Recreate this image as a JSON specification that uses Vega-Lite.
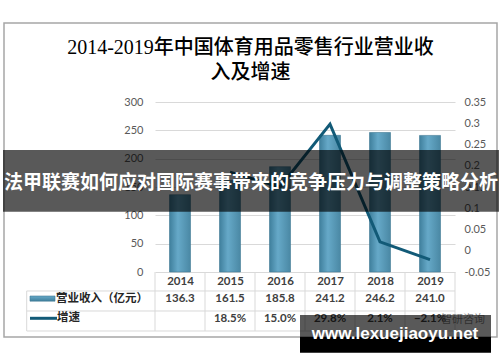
{
  "$schema": "https://vega.github.io/schema/vega-lite/v6.json",
  "width": 300,
  "height": 170,
  "padding": {"left": 3, "top": 22, "right": 1, "bottom": 9},
  "background": "white",
  "config": {"view": {"stroke": null}},
  "data": {
    "values": [
      {"year": 2014, "revenue": 136.3, "growth": null},
      {"year": 2015, "revenue": 161.5, "growth": 0.185},
      {"year": 2016, "revenue": 185.8, "growth": 0.15},
      {"year": 2017, "revenue": 241.2, "growth": 0.298},
      {"year": 2018, "revenue": 246.2, "growth": 0.021},
      {"year": 2019, "revenue": 241.0, "growth": -0.021}
    ]
  },
  "layer": [
    {
      "mark": {"type": "bar", "orient": "vertical", "size": 21, "stroke": "#3f7893", "strokeWidth": 0.6,
        "fill": {"gradient": "linear", "x1": 0, "y1": 0, "x2": 1, "y2": 0,
          "stops": [{"offset": 0, "color": "#3f7f9c"}, {"offset": 0.4, "color": "#66a9c8"}, {"offset": 1, "color": "#4a88a4"}]}},
      "encoding": {
        "x": {"field": "year", "type": "quantitative", "scale": {"domain": [2013.5, 2019.5], "padding": 0},
          "axis": {"values": [2014, 2015, 2016, 2017, 2018, 2019], "format": "d", "title": null, "grid": false, "domain": false, "ticks": false, "tickSize": 0, "labelPadding": 3, "labelFont": "Lato", "labelFontSize": 11.5, "labelFontWeight": "bold", "labelColor": "#404040"}},
        "y": {"field": "revenue", "type": "quantitative", "scale": {"domain": [0, 300]},
          "axis": {"orient": "left", "values": [0, 50, 100, 150, 200, 250, 300], "title": null, "grid": true, "gridColor": "#d9d9d9", "domain": false, "ticks": false, "tickSize": 0, "labelPadding": 12, "labelFont": "Lato", "labelFontSize": 11, "labelColor": "#595959"}}
      }
    },
    {
      "data": {"values": [{}]},
      "mark": {"type": "rect", "fill": "transparent", "stroke": "#a6a6a6", "strokeWidth": 1.5},
      "encoding": {
        "x": {"datum": 2010.48, "type": "quantitative"},
        "x2": {"datum": 2020.34},
        "y": {"datum": 439.4, "type": "quantitative", "scale": {"domain": [0, 300]}, "axis": null},
        "y2": {"datum": -114.7}
      }
    },
    {
      "data": {"values": [{"c": 2013.5}, {"c": 2014.5}, {"c": 2015.5}, {"c": 2016.5}, {"c": 2017.5}, {"c": 2018.5}, {"c": 2019.5}]},
      "mark": {"type": "rule", "color": "#d9d9d9"},
      "encoding": {"x": {"field": "c", "type": "quantitative"}, "y": {"datum": 0, "type": "quantitative", "scale": {"domain": [0, 300]}, "axis": null}, "y2": {"datum": -104.1}}
    },
    {"data": {"values": [{}]}, "mark": {"type": "rule", "color": "#d9d9d9"}, "encoding": {"x": {"datum": 2010.934, "type": "quantitative"}, "y": {"datum": -33.5, "type": "quantitative", "scale": {"domain": [0, 300]}, "axis": null}, "y2": {"datum": -104.1}}},
    {"data": {"values": [{}]}, "mark": {"type": "rule", "color": "#d9d9d9"}, "encoding": {"x": {"datum": 2010.934, "type": "quantitative"}, "x2": {"datum": 2019.5}, "y": {"datum": -33.5, "type": "quantitative", "scale": {"domain": [0, 300]}, "axis": null}}},
    {"data": {"values": [{}]}, "mark": {"type": "rule", "color": "#d9d9d9"}, "encoding": {"x": {"datum": 2010.934, "type": "quantitative"}, "x2": {"datum": 2019.5}, "y": {"datum": -68.8, "type": "quantitative", "scale": {"domain": [0, 300]}, "axis": null}}},
    {"data": {"values": [{}]}, "mark": {"type": "rule", "color": "#d9d9d9"}, "encoding": {"x": {"datum": 2010.934, "type": "quantitative"}, "x2": {"datum": 2019.5}, "y": {"datum": -104.1, "type": "quantitative", "scale": {"domain": [0, 300]}, "axis": null}}},
    {
      "mark": {"type": "text", "font": "Lato", "fontSize": 11.5, "fontWeight": "bold", "color": "#404040", "align": "center", "baseline": "middle"},
      "encoding": {
        "x": {"field": "year", "type": "quantitative"},
        "y": {"datum": -48.2, "type": "quantitative", "scale": {"domain": [0, 300]}, "axis": null},
        "text": {"field": "revenue", "type": "quantitative", "format": ".1f"}
      }
    },
    {
      "transform": [{"filter": "datum.growth != null"}],
      "mark": {"type": "text", "font": "Lato", "fontSize": 11.5, "fontWeight": "bold", "color": "#404040", "align": "center", "baseline": "middle"},
      "encoding": {
        "x": {"field": "year", "type": "quantitative"},
        "y": {"datum": -83.8, "type": "quantitative", "scale": {"domain": [0, 300]}, "axis": null},
        "text": {"field": "growth", "type": "quantitative", "format": ".1%"}
      }
    },
    {
      "data": {"values": [{}]},
      "mark": {"type": "rect", "stroke": "#3f7893", "strokeWidth": 0.6,
        "fill": {"gradient": "linear", "x1": 0, "y1": 0, "x2": 0, "y2": 1,
          "stops": [{"offset": 0, "color": "#66a9c8"}, {"offset": 1, "color": "#3f7f9c"}]}},
      "encoding": {
        "x": {"datum": 2011.0, "type": "quantitative"},
        "x2": {"datum": 2011.5},
        "y": {"datum": -42.4, "type": "quantitative", "scale": {"domain": [0, 300]}, "axis": null},
        "y2": {"datum": -51.5}
      }
    },
    {
      "data": {"values": [{}]},
      "mark": {"type": "rule", "color": "#125a77", "strokeWidth": 3},
      "encoding": {
        "x": {"datum": 2011.0, "type": "quantitative"},
        "x2": {"datum": 2011.54},
        "y": {"datum": -81.7, "type": "quantitative", "scale": {"domain": [0, 300]}, "axis": null}
      }
    },
    {
      "data": {"values": [{}]},
      "mark": {"type": "text", "font": "Noto Sans CJK SC", "fontSize": 11.5, "fontWeight": "bold", "color": "#262626", "align": "left", "baseline": "middle", "text": "营业收入（亿元）"},
      "encoding": {"x": {"datum": 2011.52, "type": "quantitative"}, "y": {"datum": -47.6, "type": "quantitative", "scale": {"domain": [0, 300]}, "axis": null}}
    },
    {
      "data": {"values": [{}]},
      "mark": {"type": "text", "font": "Noto Sans CJK SC", "fontSize": 11.5, "fontWeight": "bold", "color": "#262626", "align": "left", "baseline": "middle", "text": "增速"},
      "encoding": {"x": {"datum": 2011.54, "type": "quantitative"}, "y": {"datum": -82, "type": "quantitative", "scale": {"domain": [0, 300]}, "axis": null}}
    },
    {
      "data": {"values": [{}]},
      "mark": {"type": "text", "font": "Noto Sans CJK SC", "fontSize": 11, "color": "#8c8c8c", "align": "center", "baseline": "middle", "text": "智研咨询"},
      "encoding": {"x": {"datum": 2019.66, "type": "quantitative"}, "y": {"datum": -84.7, "type": "quantitative", "scale": {"domain": [0, 300]}, "axis": null}}
    },
    {
      "transform": [{"filter": "datum.growth != null"}],
      "mark": {"type": "line", "color": "#125a77", "strokeWidth": 3},
      "encoding": {
        "x": {"field": "year", "type": "quantitative"},
        "y": {"field": "growth", "type": "quantitative", "scale": {"domain": [-0.05, 0.35]},
          "axis": {"orient": "right", "values": [-0.05, 0, 0.05, 0.1, 0.15, 0.2, 0.25, 0.3, 0.35],
            "labelExpr": "datum.value < 0 ? '-' + format(-datum.value, '.2~f') : format(datum.value, '.2~f')",
            "title": null, "grid": false, "domain": false, "ticks": false, "tickSize": 0, "labelPadding": 9, "labelFont": "Lato", "labelFontSize": 11, "labelColor": "#595959"}}
      }
    },
    {
      "data": {"values": [{}]},
      "mark": {"type": "rect", "color": "#000000", "opacity": 0.65},
      "encoding": {
        "x": {"datum": 2010.46, "type": "quantitative"},
        "x2": {"datum": 2020.38},
        "y": {"datum": 215.3, "type": "quantitative", "scale": {"domain": [0, 300]}, "axis": null},
        "y2": {"datum": 106.4}
      }
    },
    {
      "data": {"values": [{}]},
      "mark": {"type": "text", "font": "Noto Sans CJK SC", "fontSize": 19, "fontWeight": "bold", "color": "#ffffff", "align": "center", "baseline": "middle", "text": "法甲联赛如何应对国际赛事带来的竞争压力与调整策略分析"},
      "encoding": {"x": {"datum": 2015.42, "type": "quantitative"}, "y": {"datum": 157, "type": "quantitative", "scale": {"domain": [0, 300]}, "axis": null}}
    },
    {
      "data": {"values": [{}]},
      "mark": {"type": "rect", "color": "#000000", "opacity": 0.65},
      "encoding": {
        "x": {"datum": 2016.4, "type": "quantitative"},
        "x2": {"datum": 2020.22},
        "y": {"datum": -75.9, "type": "quantitative", "scale": {"domain": [0, 300]}, "axis": null},
        "y2": {"datum": -114.7}
      }
    },
    {
      "data": {"values": [{}]},
      "mark": {"type": "rect", "color": "#000000", "opacity": 1},
      "encoding": {
        "x": {"datum": 2016.4, "type": "quantitative"},
        "x2": {"datum": 2020.22},
        "y": {"datum": -114.7, "type": "quantitative", "scale": {"domain": [0, 300]}, "axis": null},
        "y2": {"datum": -142.4}
      }
    },
    {
      "data": {"values": [{}]},
      "mark": {"type": "text", "font": "Liberation Sans", "fontSize": 17, "fontWeight": "bold", "color": "#ffffff", "align": "center", "baseline": "alphabetic", "text": "www.lexuejiaoyu.net"},
      "encoding": {"x": {"datum": 2018.3, "type": "quantitative"}, "y": {"datum": -119.1, "type": "quantitative", "scale": {"domain": [0, 300]}, "axis": null}}
    },
    {
      "data": {"values": [{}]},
      "mark": {"type": "text", "font": "Liberation Serif, Noto Sans CJK SC", "fontSize": 20, "fontWeight": 500, "color": "#000000", "align": "center", "baseline": "middle", "text": "2014-2019年中国体育用品零售行业营业收"},
      "encoding": {"x": {"datum": 2015.41, "type": "quantitative"}, "y": {"datum": 395.3, "type": "quantitative", "scale": {"domain": [0, 300]}, "axis": null}}
    },
    {
      "data": {"values": [{}]},
      "mark": {"type": "text", "font": "Liberation Serif, Noto Sans CJK SC", "fontSize": 20, "fontWeight": 500, "color": "#000000", "align": "center", "baseline": "middle", "text": "入及增速"},
      "encoding": {"x": {"datum": 2015.41, "type": "quantitative"}, "y": {"datum": 351.2, "type": "quantitative", "scale": {"domain": [0, 300]}, "axis": null}}
    }
  ],
  "resolve": {"scale": {"y": "independent"}}
}
